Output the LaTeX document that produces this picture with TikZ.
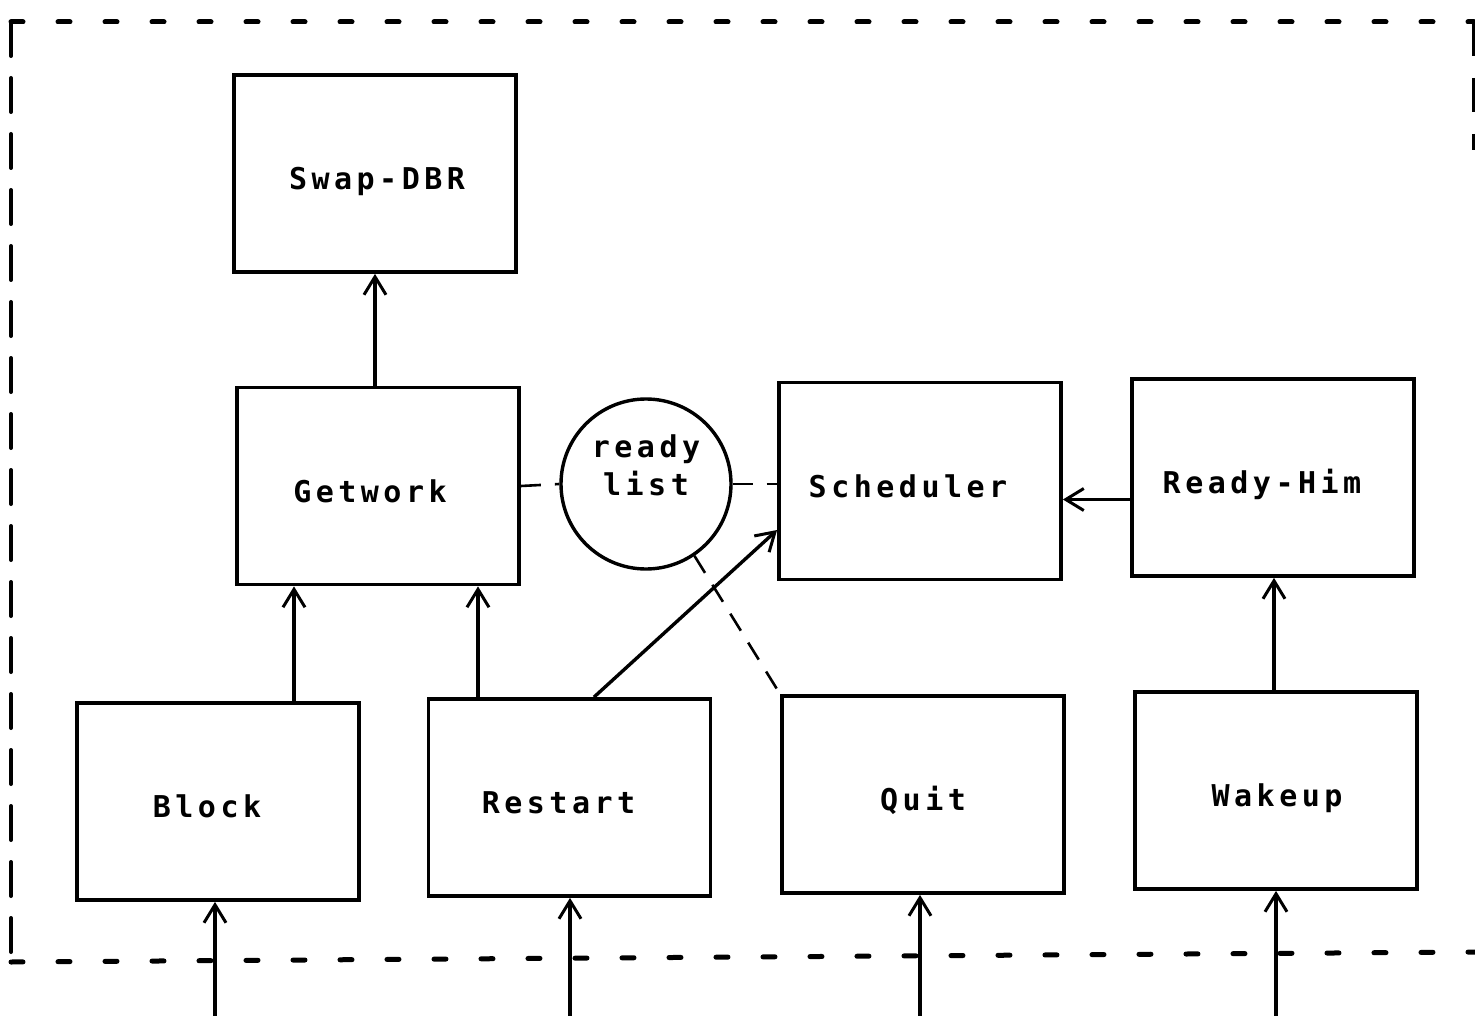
\documentclass[tikz,border=0pt]{standalone}
\usepackage{fontspec}
\newfontfamily\tw[LetterSpace=15]{DejaVu Sans Mono Bold}
\usetikzlibrary{arrows.meta,calc}
\newcommand\tsh[2]{\hspace*{#1pt}#2\hspace*{-#1pt}}
\begin{document}
\begin{tikzpicture}[x=1pt,y=-1pt,
  box/.style={draw,line width=3.8pt,minimum width=282pt,minimum height=197pt,inner sep=0pt,text height=32pt,text depth=0pt,font=\tw\fontsize{30}{38}\selectfont},
  arr/.style={line width=3.4pt,-{Straight Barb[length=18pt,width=22pt,line width=3pt]}},
  dsh/.style={line width=2.6pt,dash pattern=on 20pt off 14pt},
  bh/.style={line width=5pt,line cap=round,dash pattern=on 12pt off 35pt},
  bv/.style={line width=4pt,line cap=round,dash pattern=on 34pt off 22pt}]
\useasboundingbox (0,0) rectangle (1475,1016);
% border
\draw[bh] (11,22) -- (1474,22);
\draw[bv] (11,22) -- (11,962);
\draw[bh] (11,962) -- (1480,952);
\draw[line width=3pt,dash pattern=on 34pt off 22pt] (1473,22) -- (1473,150);
% boxes
\node[box] (swap)  at (375,173.5) {\tsh{2}{Swap-DBR}};
\node[box] (getwork) at (378,486) {\tsh{-8}{Getwork}};
\node[draw,circle,line width=3.4pt,minimum size=170pt,inner sep=0pt,align=center,font=\tw\fontsize{30}{38}\selectfont] (rl) at (646,484) {ready\\list\\\mbox{}};
\node[box] (sched) at (920,481) {\tsh{-12}{Scheduler}};
\node[box] (rh) at (1273,477.5) {\tsh{-11}{Ready-Him}};
\node[box] (block) at (218,801.5) {\tsh{-11}{Block}};
\node[box] (restart) at (569.5,797.5) {\tsh{-11}{Restart}};
\node[box] (quit) at (923,794.5) {Quit};
\node[box] (wake) at (1276,790.5) {\tsh{1}{Wakeup}};
% external inputs
\coordinate (in1) at (215,1016);
\coordinate (in2) at (570,1016);
\coordinate (in3) at (920,1016);
\coordinate (in4) at (1276,1016);
\draw[arr] (in1) -- (in1 |- block.south);
\draw[arr] (in2) -- (in2 |- restart.south);
\draw[arr] (in3) -- (in3 |- quit.south);
\draw[arr] (in4) -- (in4 |- wake.south);
% internal arrows
\draw[arr] ([xshift=-3pt]getwork.north) -- ([xshift=-3pt]getwork.north |- swap.south);
\draw[arr] ([xshift=76pt]block.north) -- ([xshift=76pt]block.north |- getwork.south);
\draw[arr] ([xshift=-91.5pt]restart.north) -- ([xshift=-91.5pt]restart.north |- getwork.south);
\draw[arr] ([xshift=24.5pt]restart.north) -- ([yshift=-49pt]sched.west);
\draw[arr] ([yshift=-22pt]rh.west) -- ([yshift=-22pt]rh.west -| sched.east);
\draw[arr] ([xshift=-2pt]wake.north) -- ([xshift=-2pt]wake.north |- rh.south);
% dashed links
\draw[dsh] (getwork.east) -- (rl.west);
\draw[dsh] (rl.east) -- (rl.east -| sched.west);
\draw[dsh] (rl.-56) -- (quit.north west);
\end{tikzpicture}
\end{document}
